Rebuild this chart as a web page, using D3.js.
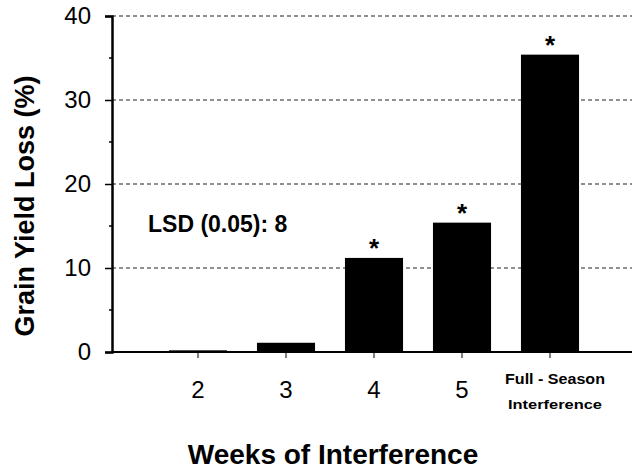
<!DOCTYPE html>
<html>
<head>
<meta charset="utf-8">
<script src="https://cdn.jsdelivr.net/npm/d3@7"></script>
<style>
  body { margin: 0; background: #fff; }
  text { font-family: Arial, "Liberation Sans", sans-serif; }
</style>
</head>
<body>
<div class="plot"></div>
<script>
// data
const weeks = ["2", "3", "4", "5", "Full"];
const yieldLoss = [0.2, 1.1, 11.2, 15.4, 35.4];
const significant = [false, false, true, true, true];
const yTicks = [0, 10, 20, 30, 40];
const lsdLabel = "LSD (0.05): 8";

const width = 632,
    height = 472,
    margin = { top: 16, right: 0, bottom: 120, left: 112 };

const svg = d3.select(".plot").append("svg")
    .attr("width", width)
    .attr("height", height);

const xScale = d3.scaleBand()
    .domain(weeks)
    .range([154, 594])
    .paddingInner(0.34)
    .paddingOuter(0.17);

const yScale = d3.scaleLinear()
    .domain([0, 40])
    .range([352, 16]);

// dashed grid
svg.append("g")
    .selectAll("line")
    .data(yTicks.filter(d => d > 0))
    .enter().append("line")
    .attr("x1", margin.left)
    .attr("x2", width)
    .attr("y1", d => yScale(d))
    .attr("y2", d => yScale(d))
    .attr("stroke", "#222")
    .attr("stroke-width", 1)
    .attr("stroke-dasharray", "4,3");

// bars
svg.append("g").selectAll("rect")
    .data(weeks)
    .enter().append("rect")
    .attr("x", d => xScale(d))
    .attr("width", xScale.bandwidth())
    .attr("y", (d, i) => yScale(yieldLoss[i]))
    .attr("height", (d, i) => yScale(0) - yScale(yieldLoss[i]))
    .attr("fill", "#000");

// stars
svg.append("g").selectAll("text")
    .data(weeks.filter((d, i) => significant[i]))
    .enter().append("text")
    .attr("x", d => xScale(d) + xScale.bandwidth() / 2)
    .attr("y", d => yScale(yieldLoss[weeks.indexOf(d)]) - 1)
    .attr("text-anchor", "middle")
    .attr("font-size", 26)
    .attr("font-weight", "bold")
    .text("*");

// y axis
const yAxis = d3.axisLeft(yScale).tickValues(yTicks).tickSize(7).tickPadding(14);
const gy = svg.append("g")
    .attr("transform", "translate(" + margin.left + ",0)")
    .call(yAxis);
gy.select(".domain").attr("stroke-width", 2.5);
gy.selectAll(".tick line").attr("stroke-width", 1.5);
gy.selectAll(".tick text")
    .attr("font-size", 24)
    .attr("font-family", "Arial, 'Liberation Sans', sans-serif")
    .attr("fill", "#000");

// minor ticks
svg.append("g").selectAll("line")
    .data([5, 15, 25, 35])
    .enter().append("line")
    .attr("x1", margin.left - 3)
    .attr("x2", margin.left)
    .attr("y1", d => yScale(d))
    .attr("y2", d => yScale(d))
    .attr("stroke", "#000")
    .attr("stroke-width", 1.5);

// x axis
const xAxis = d3.axisBottom(xScale).tickSize(6).tickFormat("");
const gx = svg.append("g")
    .attr("transform", "translate(0," + yScale(0) + ")")
    .call(xAxis);
gx.select(".domain").attr("d", "M" + margin.left + ",0H" + width).attr("stroke-width", 2);
gx.selectAll(".tick text").remove();

// x tick labels
svg.append("g").selectAll("text")
    .data(weeks.filter(d => d !== "Full"))
    .enter().append("text")
    .attr("x", d => xScale(d) + xScale.bandwidth() / 2)
    .attr("y", 398)
    .attr("text-anchor", "middle")
    .attr("font-size", 24)
    .text(d => d);

const fullX = xScale("Full") + xScale.bandwidth() / 2 + 5;
svg.append("text")
    .attr("x", fullX)
    .attr("y", 384)
    .attr("text-anchor", "middle")
    .attr("font-size", 14)
    .attr("font-weight", "bold")
    .attr("textLength", 100)
    .attr("lengthAdjust", "spacingAndGlyphs")
    .text("Full - Season");
svg.append("text")
    .attr("x", fullX)
    .attr("y", 409)
    .attr("text-anchor", "middle")
    .attr("font-size", 13)
    .attr("font-weight", "bold")
    .attr("textLength", 94)
    .attr("lengthAdjust", "spacingAndGlyphs")
    .text("Interference");

// LSD note
svg.append("text")
    .attr("x", 148)
    .attr("y", 232)
    .attr("font-size", 23)
    .attr("font-weight", "bold")
    .text(lsdLabel);

// axis titles
svg.append("text")
    .attr("x", 333)
    .attr("y", 464)
    .attr("text-anchor", "middle")
    .attr("font-size", 28)
    .attr("font-weight", "bold")
    .text("Weeks of Interference");

svg.append("text")
    .attr("transform", "translate(34,206) rotate(-90)")
    .attr("text-anchor", "middle")
    .attr("font-size", 27)
    .attr("font-weight", "bold")
    .text("Grain Yield Loss (%)");
</script>
</body>
</html>
